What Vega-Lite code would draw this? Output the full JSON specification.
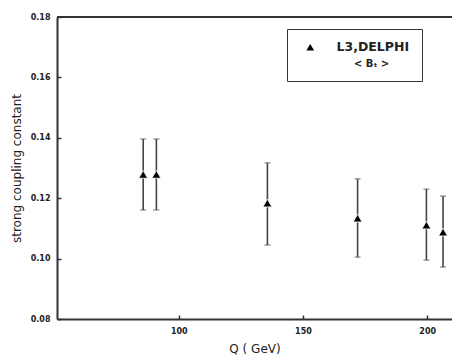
{
  "$schema": "https://vega.github.io/schema/vega-lite/v6.json",
  "width": 395,
  "height": 302,
  "autosize": {"type": "none"},
  "padding": {"left": 57, "top": 17, "right": 0, "bottom": 37},
  "background": "white",
  "config": {
    "view": {"stroke": null},
    "axis": {
      "grid": false,
      "domainColor": "#333",
      "domainWidth": 2,
      "tickColor": "#333",
      "tickWidth": 1.5,
      "tickSize": -4,
      "labelFont": "DejaVu Sans",
      "labelFontWeight": "bold",
      "labelFontSize": 8,
      "labelColor": "#222",
      "titleFont": "DejaVu Sans",
      "titleFontWeight": "normal",
      "titleColor": "#222"
    }
  },
  "data": {
    "values": [
      {"q": 85.7, "a": 0.1279, "lo": 0.1161, "hi": 0.1396, "series": "L3,DELPHI"},
      {"q": 91.0, "a": 0.1279, "lo": 0.1161, "hi": 0.1396, "series": "L3,DELPHI"},
      {"q": 135.7, "a": 0.1184, "lo": 0.1045, "hi": 0.1317, "series": "L3,DELPHI"},
      {"q": 172.0, "a": 0.1134, "lo": 0.1005, "hi": 0.1264, "series": "L3,DELPHI"},
      {"q": 199.7, "a": 0.1111, "lo": 0.0995, "hi": 0.1230, "series": "L3,DELPHI"},
      {"q": 206.4, "a": 0.1088, "lo": 0.0972, "hi": 0.1207, "series": "L3,DELPHI"}
    ]
  },
  "layer": [
    {
      "mark": {"type": "rule", "color": "#333", "strokeWidth": 2},
      "encoding": {"y": {"datum": 0.18, "type": "quantitative", "title": "strong coupling constant"}}
    },
    {
      "mark": {"type": "errorbar", "ticks": {"size": 6, "color": "#333", "strokeWidth": 1.5}, "rule": {"color": "#444", "strokeWidth": 1.6}},
      "encoding": {
        "x": {"field": "q", "type": "quantitative", "title": "Q ( GeV)"},
        "y": {"field": "lo", "type": "quantitative", "title": "strong coupling constant"},
        "y2": {"field": "hi"}
      }
    },
    {
      "mark": {"type": "point", "filled": true, "size": 80, "color": "black", "stroke": "white", "strokeWidth": 0.8, "opacity": 1},
      "encoding": {
        "x": {
          "field": "q", "type": "quantitative",
          "scale": {"domain": [51, 210], "nice": false, "zero": false},
          "axis": {"values": [100, 150, 200], "title": "Q ( GeV)", "titleFontSize": 12, "labelPadding": 12, "titlePadding": 8}
        },
        "y": {
          "field": "a", "type": "quantitative",
          "scale": {"domain": [0.08, 0.18], "nice": false, "zero": false},
          "axis": {"values": [0.08, 0.10, 0.12, 0.14, 0.16, 0.18], "format": ".2f", "title": "strong coupling constant", "titleFontSize": 12, "labelPadding": 11, "titlePadding": 7}
        },
        "shape": {
          "field": "series", "type": "nominal",
          "scale": {"range": ["triangle-up"]},
          "legend": {
            "orient": "none", "legendX": 230, "legendY": 12,
            "title": "< Bₜ >",
            "titleOrient": "bottom",
            "titleAnchor": "middle",
            "titleAlign": "left",
            "titleFont": "DejaVu Sans", "titleFontWeight": "bold", "titleFontSize": 10, "titleColor": "#222",
            "titlePadding": 5,
            "labelFont": "DejaVu Sans", "labelFontWeight": "bold", "labelFontSize": 12.5, "labelColor": "#222",
            "labelOffset": 20,
            "symbolOffset": 5,
            "symbolSize": 60, "symbolFillColor": "black", "symbolStrokeColor": "black", "symbolStrokeWidth": 0,
            "strokeColor": "#333", "padding": 12,
            "fillColor": "white"
          }
        }
      }
    }
  ]
}
